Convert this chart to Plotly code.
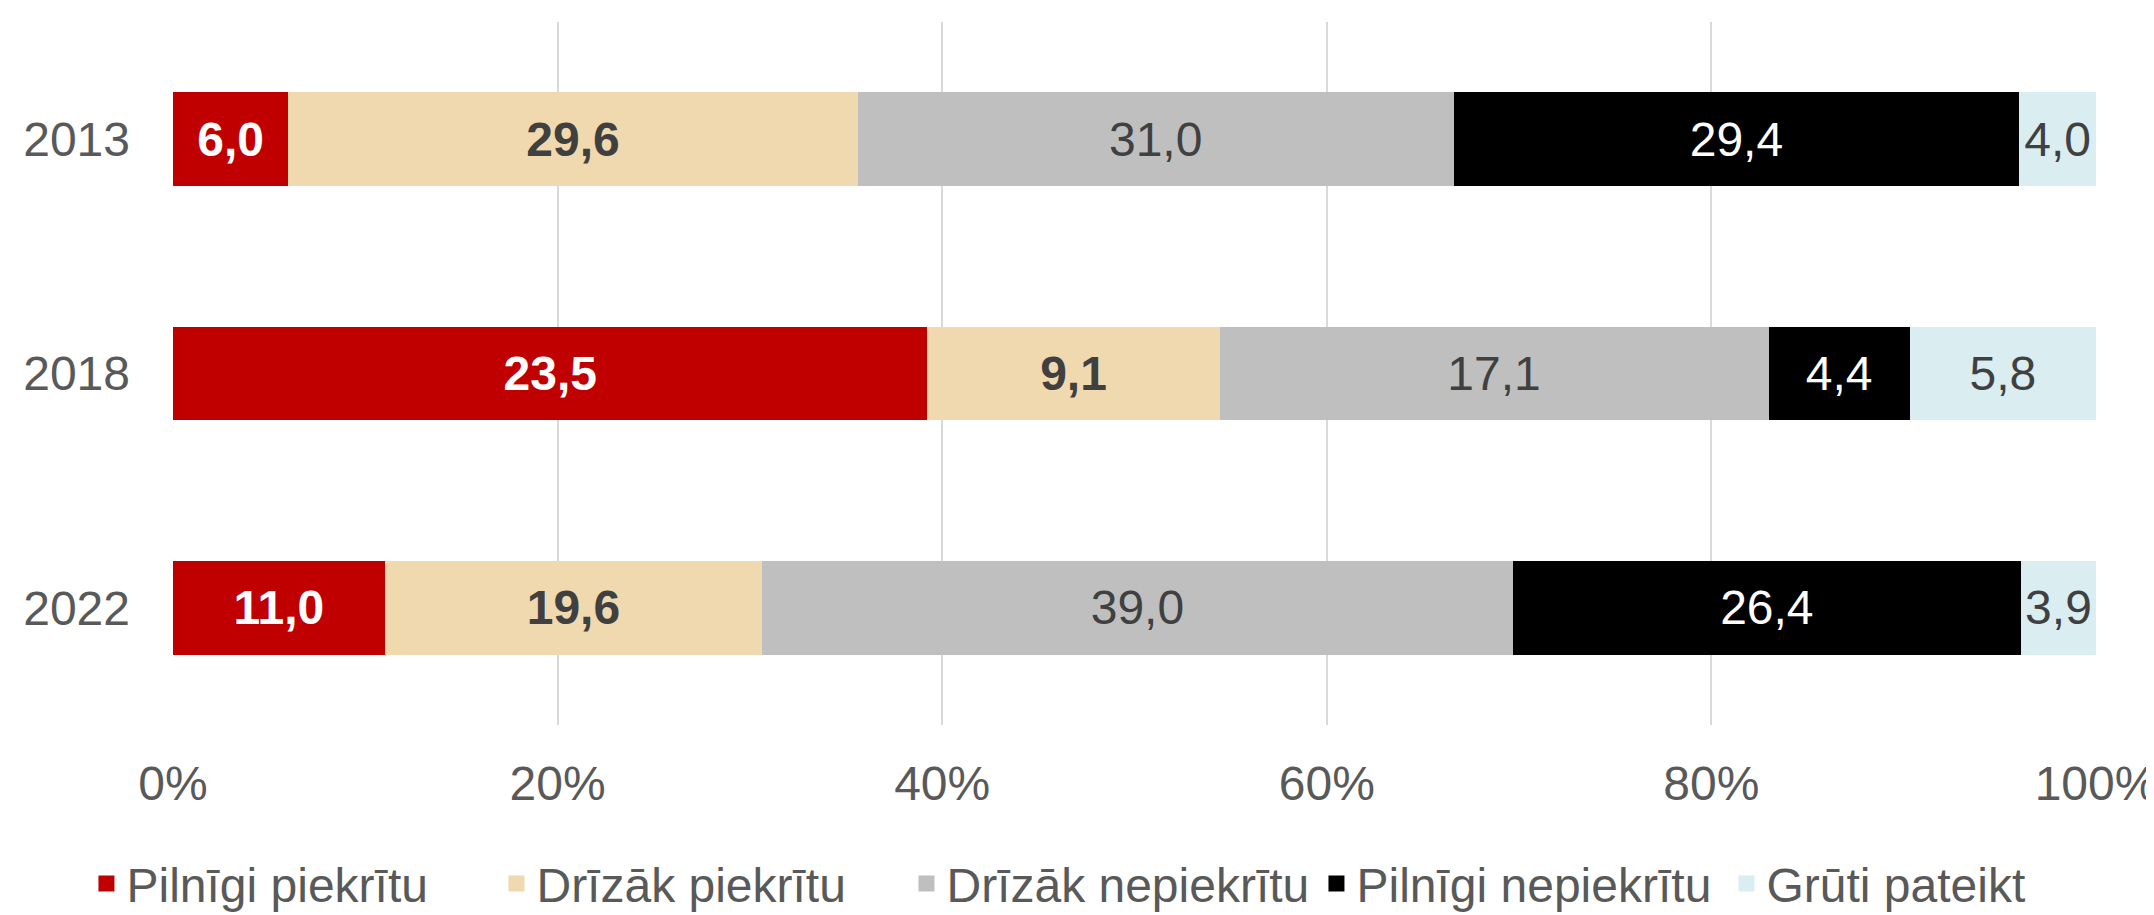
import plotly.graph_objects as go

years = ["2013", "2018", "2022"]
series_names = ["Pilnīgi piekrītu", "Drīzāk piekrītu", "Drīzāk nepiekrītu", "Pilnīgi nepiekrītu", "Grūti pateikt"]
pilnigi_piekritu = [6.0, 23.5, 11.0]
drizak_piekritu = [29.6, 9.1, 19.6]
drizak_nepiekritu = [31.0, 17.1, 39.0]
pilnigi_nepiekritu = [29.4, 4.4, 26.4]
gruti_pateikt = [4.0, 5.8, 3.9]
x_ticks = [0, 20, 40, 60, 80, 100]
x_tick_labels = ["0%", "20%", "40%", "60%", "80%", "100%"]

values = [pilnigi_piekritu, drizak_piekritu, drizak_nepiekritu, pilnigi_nepiekritu, gruti_pateikt]
colors = ["#C00000", "#F0D8AF", "#BFBFBF", "#000000", "#DAEDF0"]
text_colors = ["#FFFFFF", "#404040", "#404040", "#FFFFFF", "#404040"]
bold = [True, True, False, False, False]

FONT = "Liberation Sans, Arial, sans-serif"
FS = 48

fig = go.Figure()
for name, vals, c, tc, b in zip(series_names, values, colors, text_colors, bold):
    txt = [f"{v:.1f}".replace(".", ",") for v in vals]
    if b:
        txt = [f"<b>{t}</b>" for t in txt]
    fig.add_trace(go.Bar(
        y=years, x=vals, name=name, orientation="h",
        marker=dict(color=c, line=dict(width=0)),
        text=txt, textposition="inside", insidetextanchor="middle",
        textangle=0, constraintext="none",
        textfont=dict(color=tc, size=FS, family=FONT),
        hoverinfo="skip", showlegend=False,
    ))
# legend entries (square swatches)
for name, c in zip(series_names, colors):
    fig.add_trace(go.Scatter(
        x=[None], y=[None], mode="markers", name=name,
        marker=dict(symbol="square", size=25, color=c),
        showlegend=True, hoverinfo="skip",
    ))

fig.update_layout(
    barmode="stack", barnorm="percent", bargap=0.6,
    width=2154, height=915,
    margin=dict(l=165, r=66, t=14, b=198, autoexpand=False),
    plot_bgcolor="white", paper_bgcolor="white",
    font=dict(family=FONT, size=FS, color="#595959"),
    legend=dict(orientation="h", x=-0.045, xanchor="left", y=-0.226, yanchor="middle",
                font=dict(size=FS, color="#595959"), traceorder="normal",
                itemsizing="trace", entrywidth=365, entrywidthmode="pixels"),
)
fig.update_xaxes(range=[0, 100], tickvals=x_ticks, ticktext=x_tick_labels,
                 showgrid=True, gridcolor="#D9D9D9", gridwidth=2,
                 zeroline=False, showline=False, ticklabelstandoff=26,
                 automargin=False,
                 tickfont=dict(size=FS, color="#595959"))
fig.update_yaxes(categoryorder="array", categoryarray=years, autorange="reversed",
                 showgrid=False, showline=False, ticklabelstandoff=42,
                 automargin=False,
                 tickfont=dict(size=FS, color="#595959"))

fig.write_html("out.html")
